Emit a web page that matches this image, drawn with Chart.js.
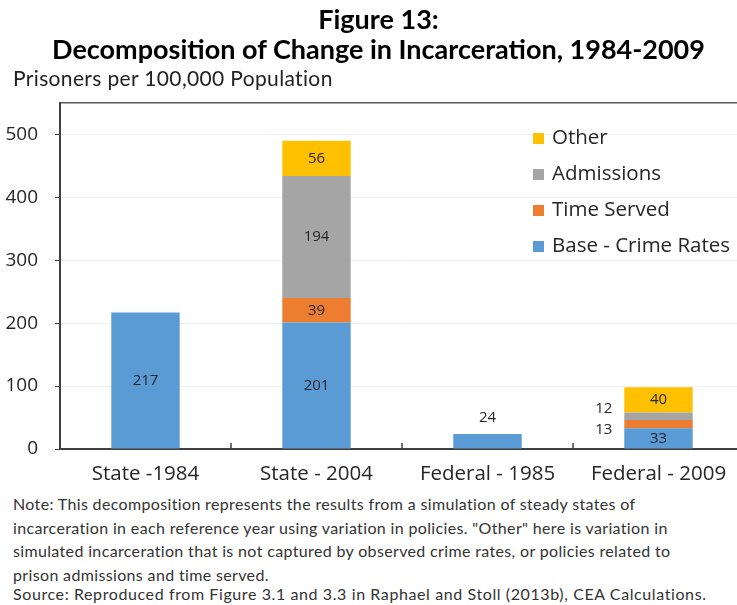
<!DOCTYPE html>
<html>
<head>
<meta charset="utf-8">
<script src="https://cdn.jsdelivr.net/npm/chart.js@4.4.1/dist/chart.umd.min.js"></script>
<style>
  html, body { margin: 0; padding: 0; background: #fff; overflow: hidden; width: 737px; height: 605px; }
  #wrap { position: relative; width: 737px; height: 605px; }
  #chart { position: absolute; left: 0; top: 0; }
  .titulo { position: absolute; left: 0; width: 757px; text-align: center; font-family: Lato, sans-serif; font-weight: bold; color: #000; }
  #t1 { top: 2px; font-size: 27px; }
  #t2 { top: 32px; font-size: 27px; }
  #subtitulo { position: absolute; left: 13px; top: 65px; font-family: Lato, sans-serif; font-size: 21px; letter-spacing: 0.35px; color: #222; }
  #nota { position: absolute; left: 13px; top: 492px; font-family: Lato, sans-serif; font-size: 16px; letter-spacing: 0.35px; line-height: 23.5px; color: #333; white-space: nowrap; }
  #fuente { position: relative; top: -4px; letter-spacing: 0.6px; }
</style>
</head>
<body>
<div id="wrap">
  <canvas id="chart" width="750" height="490"></canvas>
  <div class="titulo" id="t1">Figure 13:</div>
  <div class="titulo" id="t2">Decomposition of Change in Incarceration, 1984-2009</div>
  <div id="subtitulo">Prisoners per 100,000 Population</div>
  <div id="nota">Note: This decomposition represents the results from a simulation of steady states of<br>incarceration in each reference year using variation in policies. "Other" here is variation in<br>simulated incarceration that is not captured by observed crime rates, or policies related to<br>prison admissions and time served.<br><span id="fuente">Source: Reproduced from Figure 3.1 and 3.3 in Raphael and Stoll (2013b), CEA Calculations.</span></div>
</div>
<script>
// Datos
const categorias = ['State -1984', 'State - 2004', 'Federal - 1985', 'Federal - 2009'];
const baseCrimen = [217, 201, 24, 33];
const tiempoCumplido = [null, 39, null, 13];
const admisiones = [null, 194, null, 12];
const otros = [null, 56, null, 40];
const ticksY = [0, 100, 200, 300, 400, 500];

const colores = {
  base: '#5B9BD5',
  tiempo: '#ED7D31',
  admisiones: '#A5A5A5',
  otros: '#FFC000'
};

// Etiquetas de valor dentro / al lado de cada segmento
const etiquetasPlugin = {
  id: 'etiquetas',
  afterDatasetsDraw(chart) {
    const ctx = chart.ctx;
    ctx.save();
    ctx.font = '15px "Open Sans", sans-serif';
    ctx.fillStyle = '#262626';
    ctx.textBaseline = 'middle';
    chart.data.datasets.forEach((ds, di) => {
      const meta = chart.getDatasetMeta(di);
      meta.data.forEach((bar, i) => {
        const v = ds.data[i];
        if (v == null) return;
        const alto = Math.abs(bar.base - bar.y);
        const soloUno = chart.data.datasets.every((d, k) => k === 0 || d.data[i] == null);
        if (alto >= 16) {
          ctx.textAlign = 'center';
          ctx.fillText(v, bar.x, (bar.y + bar.base) / 2);
        } else if (soloUno) {
          ctx.textAlign = 'center';
          ctx.fillText(v, bar.x, bar.y - 16);
        } else {
          // segmentos pequeños: etiqueta a la izquierda de la barra
          ctx.textAlign = 'right';
          const ajuste = di === 1 ? 6 : -8;
          ctx.fillText(v, bar.x - bar.width / 2 - 12, (bar.y + bar.base) / 2 + ajuste);
        }
      });
    });
    ctx.restore();
  }
};

// Leyenda dentro del área del gráfico, orden inverso
const leyendaPlugin = {
  id: 'leyendaInterna',
  afterDraw(chart) {
    const ctx = chart.ctx;
    const area = chart.chartArea;
    const x0 = area.right - 211;
    let y = area.top + 35;
    ctx.save();
    ctx.font = '20.5px "Open Sans", sans-serif';
    ctx.textBaseline = 'middle';
    ctx.textAlign = 'left';
    const lista = chart.data.datasets.slice().reverse();
    lista.forEach(ds => {
      ctx.fillStyle = ds.backgroundColor;
      ctx.fillRect(x0, y - 5, 11, 11);
      ctx.fillStyle = '#262626';
      ctx.fillText(ds.label, x0 + 19, y);
      y += 36;
    });
    ctx.restore();
  }
};

// Marcas del eje X entre categorías, hacia dentro
const marcasXPlugin = {
  id: 'marcasX',
  afterDraw(chart) {
    const ctx = chart.ctx;
    const escala = chart.scales.x;
    const abajo = chart.chartArea.bottom;
    ctx.save();
    ctx.strokeStyle = '#404040';
    ctx.lineWidth = 1.5;
    for (let i = 1; i < categorias.length; i++) {
      const x = (escala.getPixelForValue(i - 1) + escala.getPixelForValue(i)) / 2;
      ctx.beginPath();
      ctx.moveTo(x, abajo);
      ctx.lineTo(x, abajo - 6);
      ctx.stroke();
    }
    ctx.restore();
  }
};

new Chart(document.getElementById('chart'), {
  type: 'bar',
  data: {
    labels: categorias,
    datasets: [
      { label: 'Base - Crime Rates', data: baseCrimen, backgroundColor: colores.base },
      { label: 'Time Served', data: tiempoCumplido, backgroundColor: colores.tiempo },
      { label: 'Admissions', data: admisiones, backgroundColor: colores.admisiones },
      { label: 'Other', data: otros, backgroundColor: colores.otros }
    ]
  },
  options: {
    responsive: false,
    animation: false,
    layout: { padding: { top: 103, right: 6, left: 0, bottom: 0 } },
    datasets: {
      bar: { categoryPercentage: 1, barPercentage: 0.4, borderWidth: 0 }
    },
    plugins: {
      legend: { display: false },
      tooltip: { enabled: false }
    },
    scales: {
      x: {
        stacked: true,
        grid: { display: false },
        border: { display: true, color: '#404040', width: 2 },
        ticks: { color: '#262626', font: { family: 'Open Sans', size: 20.5 }, padding: 5 },
        afterFit(s) { s.height = 41; }
      },
      y: {
        stacked: true,
        min: 0,
        max: 550,
        afterBuildTicks(s) {
          s.ticks = ticksY.concat([550]).map(v => ({ value: v }));
        },
        grid: {
          color: c => c.tick && c.tick.value === 550 ? '#595959' : '#f0f0f0',
          lineWidth: c => c.tick && c.tick.value === 550 ? 1.5 : 1,
          tickColor: c => c.tick && c.tick.value === 550 ? 'rgba(0,0,0,0)' : '#404040',
          tickLength: 5
        },
        border: { display: true, color: '#404040', width: 2 },
        ticks: {
          color: '#262626',
          font: { family: 'Open Sans', size: 19 },
          padding: 17,
          callback: v => (ticksY.includes(v) ? v : '')
        },
        afterFit(s) { s.width = 60; }
      }
    }
  },
  plugins: [etiquetasPlugin, leyendaPlugin, marcasXPlugin]
});
</script>
</body>
</html>
